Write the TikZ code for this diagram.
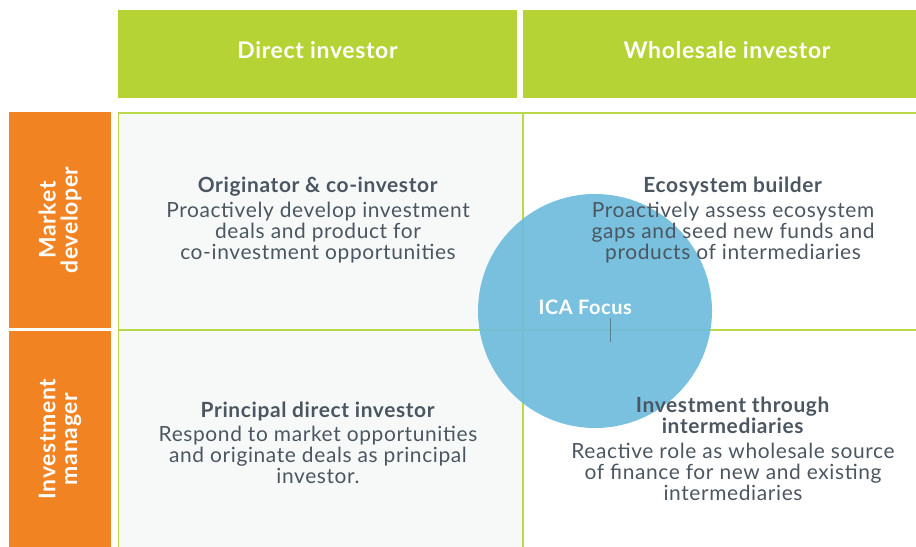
\documentclass[tikz,border=0pt]{standalone}
\usepackage{fontspec}
\setmainfont{Lato}[LetterSpace=3]
\definecolor{leafgreen}{HTML}{B5D334}
\definecolor{gridgreen}{HTML}{B9D84A}
\definecolor{deeporange}{HTML}{F28322}
\definecolor{slatetext}{HTML}{4B5661}
\definecolor{panelgray}{HTML}{F7F9F9}
\definecolor{focusblue}{HTML}{6FBCDC}
\tikzset{
  headbox/.style={fill=leafgreen, text=white, font=\fontsize{23}{26}\selectfont\bfseries,
    minimum width=399bp, minimum height=88bp, inner sep=0pt, text height=17bp, text depth=7bp},
  sidebox/.style={fill=deeporange, text=white, font=\fontsize{23}{22}\selectfont\bfseries,
    align=center, minimum width=215bp, minimum height=102bp, inner sep=0pt, rotate=90},
  roletext/.style={text=slatetext, align=center, font=\fontsize{21}{21}\selectfont, inner sep=0pt},
}
\begin{document}
\begin{tikzpicture}[x=1bp, y=-1bp]
    \useasboundingbox (0,0) rectangle (916,547);
    \node[headbox] (direct) at (317.5,54) {Direct investor};
    \node[headbox, minimum width=394bp] (wholesale) at (719.5,54) {\hspace*{15bp}Wholesale investor};
    \node[sidebox] (market) at (60,220) {Market\\developer};
    \node[sidebox, minimum width=216bp] (manager) at (60,439) {Investment\\manager};
    \fill[panelgray] (118,113) rectangle (523,547);
    \draw[gridgreen, line width=1.5bp] (118.5,547) |- (916,113);
    \draw[gridgreen, line width=1.5bp] (118,330) -- (916,330);
    \draw[gridgreen, line width=1.5bp] (523,113) -- (523,547);
    \node[circle, fill=focusblue, fill opacity=0.92, minimum size=234bp, inner sep=0pt] (focus) at (595,311) {};
    \coordinate (tick) at (610.5,318);
    \draw[slatetext!60!focusblue, line width=0.6bp] (tick) -- ++(0,24);
    \node[text=white, font=\fontsize{20}{20}\selectfont\bfseries, anchor=west] (icafocus) at (535,307) {ICA Focus};
    \node[roletext] (originator) at (318,220) {\textbf{Originator \& co-investor}\\[4bp]Proactively develop investment\\deals and product for\\co-investment opportunities};
    \node[roletext] (ecosystem) at (733,220) {\textbf{Ecosystem builder}\\[4bp]Proactively assess ecosystem\\gaps and seed new funds and\\products of intermediaries};
    \node[roletext] (principal) at (318,443) {\textbf{Principal direct investor}\\[3bp]Respond to market opportunities\\and originate deals as principal\\investor.};
    \node[roletext] (through) at (733,449) {\textbf{Investment through}\\\textbf{intermediaries}\\[4bp]Reactive role as wholesale source\\of finance for new and existing\\intermediaries};
\end{tikzpicture}
\end{document}
